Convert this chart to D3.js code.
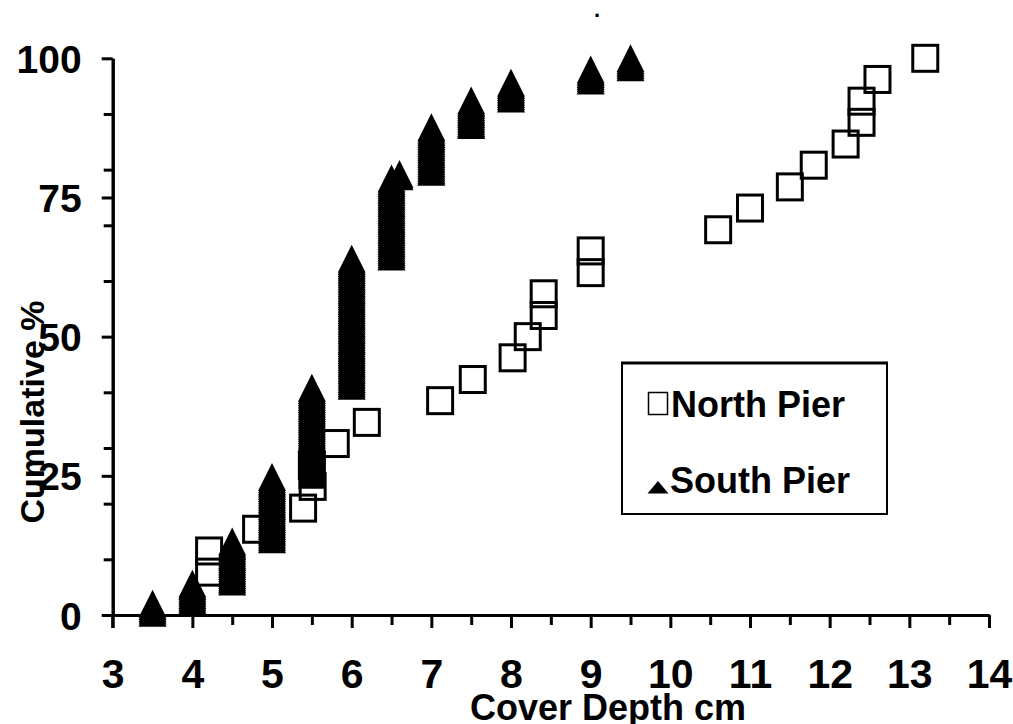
<!DOCTYPE html>
<html>
<head>
<meta charset="utf-8">
<script src="https://cdn.jsdelivr.net/npm/d3@7"></script>
<style>
  body { margin: 0; background: #fff; }
  svg { display: block; font-family: "Liberation Sans", Arial, sans-serif; }
</style>
</head>
<body>
<svg id="chart" width="1013" height="724"></svg>
<script>
// North Pier: cover depth (cm) and cumulative %
const northDepth = [4.21, 4.21, 4.8, 5.39, 5.51, 5.5, 5.8, 6.19, 7.11, 7.52, 8.02, 8.21,
                    8.41, 8.41, 9.0, 9.0, 10.6, 11.0, 11.5, 11.8, 12.2, 12.4, 12.4, 12.6, 13.2];
const northCum = [7.7, 11.5, 15.4, 19.2, 23.1, 26.9, 30.8, 34.6, 38.5, 42.3, 46.2, 50.0,
                  53.8, 57.7, 61.5, 65.4, 69.2, 73.1, 76.9, 80.8, 84.6, 88.5, 92.3, 96.2, 100];

// South Pier: number of readings at each cover depth
const southDepth = [3.5, 4.0, 4.5, 5.0, 5.5, 6.0, 6.5, 6.6, 7.0, 7.5, 8.0, 9.0, 9.5];
const southCount = [5, 9, 19, 29, 40, 58, 36, 2, 21, 12, 8, 6, 5];

// axis ticks
const xMajorTicks = [3, 4, 5, 6, 7, 8, 9, 10, 11, 12, 13, 14];
const xMinorTicks = [3.5, 4.5, 5.5, 6.5, 7.5, 8.5, 9.5, 10.5, 11.5, 12.5, 13.5];
const yMajorTicks = [0, 25, 50, 75, 100];
const yMinorTicks = [10, 20, 30, 40, 60, 70, 80, 90];

const svg = d3.select('#chart');
const x = d3.scaleLinear().domain([3, 14]).range([112.7, 989]);
const y = d3.scaleLinear().domain([0, 100]).range([615, 58.3]);

// cumulative points for south pier: one point per reading
let total = d3.sum(southCount);
let south = [];
let rank = 0;
southDepth.forEach((d, i) => {
    for (let k = 0; k < southCount[i]; k++) {
        rank++;
        south.push({ depth: d, cum: rank / total * 100 });
    }
});
let north = northDepth.map((d, i) => ({ depth: d, cum: northCum[i] }));

function styleAxis(g) {
    g.select('.domain').attr('stroke', '#000').attr('stroke-width', 3);
    g.selectAll('.tick line').attr('stroke', '#000').attr('stroke-width', 3);
}

// x axis
svg.append('g')
    .attr('transform', 'translate(0,615)')
    .call(d3.axisBottom(x).tickValues(xMinorTicks).tickSize(10).tickSizeOuter(0).tickFormat(''))
    .call(styleAxis);
let xAxis = svg.append('g')
    .attr('transform', 'translate(0,615)')
    .call(d3.axisBottom(x).tickValues(xMajorTicks).tickSize(13).tickSizeOuter(0).tickFormat(d3.format('d')))
    .call(styleAxis);
xAxis.selectAll('.tick text')
    .attr('y', 73).attr('dy', null)
    .attr('fill', '#000')
    .style('font-size', '41px')
    .style('font-weight', 'bold')
    .style('font-family', '"Liberation Sans", Arial, sans-serif');

// y axis
svg.append('g')
    .attr('transform', 'translate(112.7,0)')
    .call(d3.axisLeft(y).tickValues(yMinorTicks).tickSize(9).tickSizeOuter(0).tickFormat(''))
    .call(styleAxis);
let yAxis = svg.append('g')
    .attr('transform', 'translate(112.7,0)')
    .call(d3.axisLeft(y).tickValues(yMajorTicks).tickSize(11).tickSizeOuter(0).tickFormat(d3.format('d')))
    .call(styleAxis);
yAxis.selectAll('.tick text')
    .attr('x', -31).attr('dy', '0.36em')
    .attr('fill', '#000')
    .style('font-size', '39px')
    .style('font-weight', 'bold')
    .style('font-family', '"Liberation Sans", Arial, sans-serif');
// y axis runs down past the x axis like the x=3 tick
svg.append('line')
    .attr('x1', x(3)).attr('x2', x(3))
    .attr('y1', y(0)).attr('y2', y(0) + 13)
    .attr('stroke', '#000').attr('stroke-width', 3);

// north pier squares (hollow)
svg.append('g').selectAll('rect')
    .data(north)
    .join('rect')
    .attr('x', d => x(d.depth) - 12.5)
    .attr('y', d => y(d.cum) - 13)
    .attr('width', 25)
    .attr('height', 26)
    .attr('fill', 'none')
    .attr('stroke', '#000')
    .attr('stroke-width', 3);

// south pier triangles (filled)
svg.append('g').selectAll('path')
    .data(south)
    .join('path')
    .attr('d', 'M0,-14L14,14L-14,14Z')
    .attr('transform', d => `translate(${x(d.depth)},${y(d.cum)})`)
    .attr('fill', '#000');

// axis titles
svg.append('text')
    .attr('x', 608).attr('y', 720)
    .attr('text-anchor', 'middle')
    .style('font-size', '36px').style('font-weight', 'bold')
    .text('Cover Depth cm');
svg.append('text')
    .attr('transform', 'translate(44,412) rotate(-90)')
    .attr('text-anchor', 'middle')
    .style('font-size', '34px').style('font-weight', 'bold')
    .text('Cumulative %');

// stray title dot
svg.append('text')
    .attr('x', 597).attr('y', 17)
    .attr('text-anchor', 'middle')
    .style('font-size', '22px').style('font-weight', 'bold')
    .text('.');

// legend
let legend = svg.append('g');
legend.append('rect')
    .attr('x', 622).attr('y', 363)
    .attr('width', 265).attr('height', 151)
    .attr('fill', '#fff').attr('stroke', '#000').attr('stroke-width', 2);
legend.append('line')
    .attr('x1', 621).attr('x2', 888).attr('y1', 363).attr('y2', 363)
    .attr('stroke', '#000').attr('stroke-width', 3);
legend.append('rect')
    .attr('x', 648.5).attr('y', 392.5)
    .attr('width', 19).attr('height', 22)
    .attr('fill', 'none').attr('stroke', '#000').attr('stroke-width', 1.5);
legend.append('path')
    .attr('d', 'M658,481L668.5,493.5L647.5,493.5Z')
    .attr('fill', '#000');
legend.append('text')
    .attr('x', 671).attr('y', 417)
    .style('font-size', '36px').style('font-weight', 'bold')
    .text('North Pier');
legend.append('text')
    .attr('x', 670).attr('y', 493)
    .style('font-size', '36px').style('font-weight', 'bold')
    .text('South Pier');
</script>
</body>
</html>
